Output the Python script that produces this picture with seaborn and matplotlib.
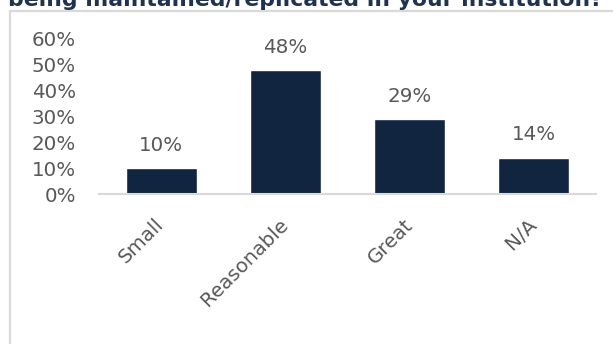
import matplotlib
matplotlib.use("Agg")
import matplotlib.pyplot as plt
from matplotlib.lines import Line2D
import seaborn as sns
import pandas as pd

title = "being maintained/replicated in your institution?"
categories = ["Small", "Reasonable", "Great", "N/A"]
values = [0.10, 0.48, 0.29, 0.14]
yticks = [0.0, 0.1, 0.2, 0.3, 0.4, 0.5, 0.6]
ytick_labels = ["0%", "10%", "20%", "30%", "40%", "50%", "60%"]

sns.set_theme(style="white")
plt.rcParams["font.family"] = ["DejaVu Sans"]

BAR = "#122540"
TXT = "#595959"
GRID = "#d9d9d9"
FS = 14.3

W, H = 613, 344
fig = plt.figure(figsize=(W / 100, H / 100), dpi=100)
ax = fig.add_axes([99 / W, 150 / H, (596 - 99) / W, (194 - 39) / H])

df = pd.DataFrame({"cat": categories, "val": values})
sns.barplot(data=df, x="cat", y="val", color=BAR, saturation=1, width=0.57, ax=ax)

ax.set_xlim(-0.5, 3.5)
ax.set_ylim(0, 0.6)
ax.set_yticks(yticks)
ax.set_yticklabels(ytick_labels)
ax.set_xlabel("")
ax.set_ylabel("")
for s in ["top", "right", "left"]:
    ax.spines[s].set_visible(False)
ax.spines["bottom"].set_color(GRID)
ax.spines["bottom"].set_linewidth(1.5)
ax.tick_params(axis="y", length=0, pad=16.5, labelsize=FS, labelcolor=TXT)
ax.tick_params(axis="x", length=0, pad=20, labelsize=FS, labelcolor=TXT)
for lab in ax.get_xticklabels():
    lab.set_rotation(45)
    lab.set_ha("right")
    lab.set_va("center")
    lab.set_rotation_mode("anchor")

for i, v in enumerate(values):
    ax.annotate(f"{round(v * 100)}%", xy=(i, v), xytext=(0, 12.5),
                textcoords="offset points", ha="center", va="baseline",
                fontsize=FS, color=TXT)

# outer frame (only its left and top edges fall inside the image)
fx, fy = 9.5 / W, 1 - 10.5 / H
fig.lines.append(Line2D([fx, fx], [-0.05, fy], transform=fig.transFigure,
                        color=GRID, linewidth=1.6))
fig.lines.append(Line2D([fx, 1.05], [fy, fy], transform=fig.transFigure,
                        color=GRID, linewidth=1.6))

t = fig.text(8 / W, 1 - 6 / H, title, ha="left", va="baseline", fontsize=14.5,
             fontweight="bold", color="#1f3350")
fig.canvas.draw()
bb = t.get_window_extent()
t.set_fontsize(14.5 * (603 - 8) / bb.width)

fig.savefig("out.png", dpi=100)
